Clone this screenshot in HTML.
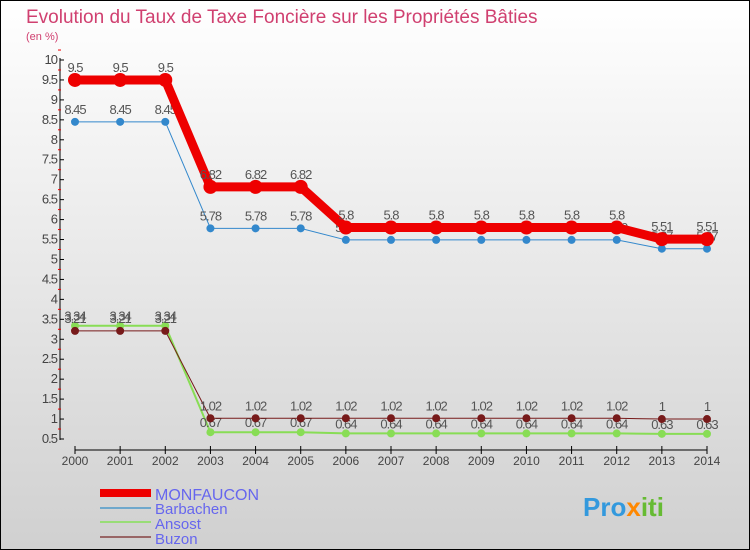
<!DOCTYPE html>
<html><head><meta charset="utf-8"><style>
body{margin:0;width:750px;height:550px;overflow:hidden;font-family:"Liberation Sans",sans-serif}
svg{display:block}
</style></head><body>
<svg id="c" width="750" height="550" xmlns="http://www.w3.org/2000/svg">
<defs><linearGradient id="bg" x1="0" y1="0" x2="0" y2="1"><stop offset="0" stop-color="#ffffff"/><stop offset="1" stop-color="#d0d0d0"/></linearGradient></defs>
<rect x="0.5" y="0.5" width="749" height="549" fill="url(#bg)" stroke="#000"/>
<text x="26" y="23" font-size="19" fill="#d04070">Evolution du Taux de Taxe Foncière sur les Propriétés Bâties</text>
<text x="26" y="40" font-size="11" fill="#d04070">(en %)</text>
<g id="axes"></g><g id="series"></g>
<g>
<rect x="100" y="489" width="51" height="8" fill="#e00"/>
<text x="155" y="500" font-size="16" fill="#6666ee">MONFAUCON</text>
<line x1="100" x2="151" y1="508" y2="508" stroke="#6fa8cc" stroke-width="2"/>
<text x="155" y="514" font-size="15" fill="#6666ee">Barbachen</text>
<line x1="100" x2="151" y1="522" y2="522" stroke="#99dd77" stroke-width="2"/>
<text x="155" y="529" font-size="15" fill="#6666ee">Ansost</text>
<line x1="100" x2="151" y1="537" y2="537" stroke="#996666" stroke-width="2"/>
<text x="155" y="544" font-size="15" fill="#6666ee">Buzon</text>
</g>
<text x="583" y="516" font-size="26" font-weight="bold" fill="#3399dd">Pro<tspan fill="#ff8800">x</tspan><tspan fill="#66bb33">iti</tspan></text>
</svg>
<script>
const years=[2000,2001,2002,2003,2004,2005,2006,2007,2008,2009,2010,2011,2012,2013,2014];
const monfaucon=[9.5,9.5,9.5,6.82,6.82,6.82,5.8,5.8,5.8,5.8,5.8,5.8,5.8,5.51,5.51];
const barbachen=[8.45,8.45,8.45,5.78,5.78,5.78,5.49,5.49,5.49,5.49,5.49,5.49,5.49,5.27,5.27];
const ansost=[3.34,3.34,3.34,0.67,0.67,0.67,0.64,0.64,0.64,0.64,0.64,0.64,0.64,0.63,0.63];
const buzon=[3.21,3.21,3.21,1.02,1.02,1.02,1.02,1.02,1.02,1.02,1.02,1.02,1.02,1,1];
const yTicks=[0.5,1,1.5,2,2.5,3,3.5,4,4.5,5,5.5,6,6.5,7,7.5,8,8.5,9,9.5,10];
const NS="http://www.w3.org/2000/svg";
const X=i=>75+i*(707-75)/(years.length-1);
const Y=v=>439-(v-0.5)*(379/9.5);
function mk(p,t,a){const e=document.createElementNS(NS,t);for(const k in a)e.setAttribute(k,a[k]);p.appendChild(e);return e;}
const ax=document.getElementById('axes'),se=document.getElementById('series');
let l=mk(ax,'line',{x1:60,x2:60,y1:58,y2:440,stroke:'#000'});


l=mk(ax,'line',{x1:X(0),x2:X(years.length-1),y1:450,y2:450,stroke:'#000'});


yTicks.forEach(v=>{const y=Y(v);mk(ax,'line',{x1:60,x2:64,y1:y,y2:y,stroke:'#000'});
mk(ax,'line',{x1:58,x2:61,y1:Y(v+0.25),y2:Y(v+0.25),stroke:'#e00'});
const t=mk(ax,'text',{x:57,y:y+4,'font-size':13,fill:'#444','text-anchor':'end','letter-spacing':'-1'});t.textContent=v;

});
years.forEach((yr,i)=>{const x=X(i);mk(ax,'line',{x1:x,x2:x,y1:446,y2:454,stroke:'#000'});
const t=mk(ax,'text',{x:x,y:465,'font-size':12,fill:'#444','text-anchor':'middle'});t.textContent=yr;

});
function draw(name,data,col,w,r,lblDy){
const g=mk(se,'g',{});


mk(g,'polyline',{points:data.map((v,i)=>X(i)+','+Y(v)).join(' '),fill:'none',stroke:col,'stroke-width':w,'stroke-linejoin':'round'});
data.forEach((v,i)=>{const c=mk(g,'circle',{cx:X(i),cy:Y(v),r:r,fill:col});


const t=mk(g,'text',{x:X(i),y:Y(v)+lblDy,'font-size':13,fill:'#555','text-anchor':'middle','letter-spacing':'-1'});t.textContent=v;

});}
draw('ansost',ansost,'#88dd55',2,4,-5);
draw('buzon',buzon,'#771a1a',1,4,-8);
draw('barbachen',barbachen,'#3388cc',1,4,-8);
draw('monfaucon',monfaucon,'#ee0000',9,7,-8);
</script>
</body></html>
